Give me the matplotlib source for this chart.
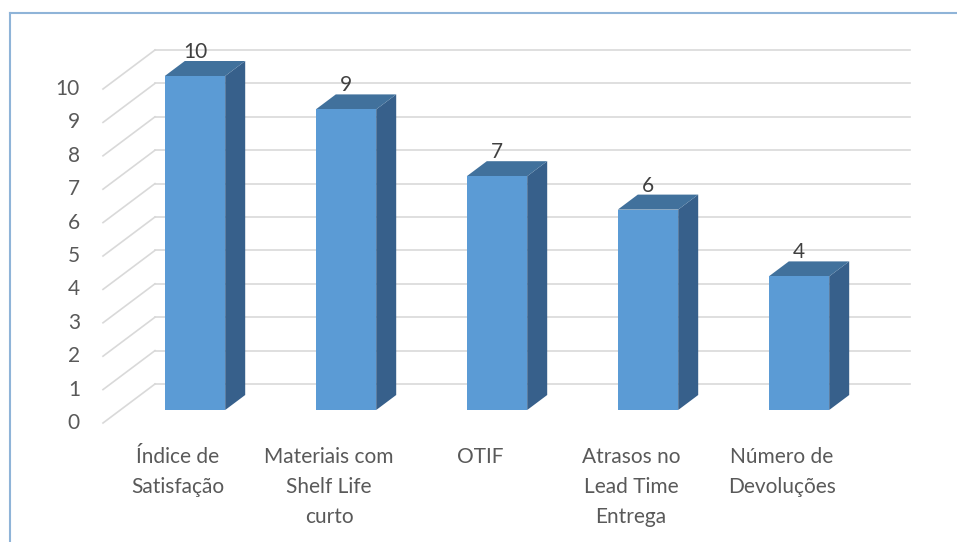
import matplotlib
matplotlib.use("Agg")
import matplotlib.pyplot as plt
from matplotlib.patches import Polygon
from matplotlib.lines import Line2D

# dados do grafico
categorias = ["Índice de\nSatisfação", "Materiais com\nShelf Life\ncurto", "OTIF",
              "Atrasos no\nLead Time\nEntrega", "Número de\nDevoluções"]
valores = [10, 9, 7, 6, 4]
ticks = list(range(0, 11))

plt.rcParams['font.family'] = ['Lato', 'DejaVu Sans']

W, H = 957, 542
fig = plt.figure(figsize=(W / 100, H / 100), dpi=100)
ax = fig.add_axes([0, 0, 1, 1])
ax.axis('off')

# escala: 151 px por categoria, 33.4 px por unidade
px_x, px_y = 151.0, 33.4
x0_px, y0_px = 195.0, 542 - 410.0
ax.set_xlim(-x0_px / px_x, (W - x0_px) / px_x)
ax.set_ylim(-y0_px / px_y, (H - y0_px) / px_y)

# profundidade das barras e da parede
larg = 0.4
ddx, ddy = 20 / px_x, 15 / px_y
parede_y0 = 26 / px_y          # base da parede do fundo
prof_x, prof_y = 52 / px_x, 39 / px_y
chao_x = -92 / px_x
chao_y = parede_y0 - prof_y
parede_x0 = chao_x + prof_x
parede_x1 = (910 - x0_px) / px_x

fs = 15
cor_grade = '#d9d9d9'
for t in ticks:
    ax.plot([parede_x0, parede_x1], [parede_y0 + t, parede_y0 + t], color=cor_grade, lw=1.2, zorder=1)
    ax.plot([chao_x, parede_x0], [chao_y + t, parede_y0 + t], color=cor_grade, lw=1.2, zorder=1)
    ax.text(chao_x - 23 / px_x, chao_y + t, str(t), ha='right', va='center',
            fontsize=fs, color='#595959')

frente, lado, topo = '#5b9bd5', '#37608b', '#41719c'
for i, v in enumerate(valores):
    xl, xr = i - larg / 2, i + larg / 2
    ax.add_patch(Polygon([(xr, 0), (xr, v), (xr + ddx, v + ddy), (xr + ddx, ddy)],
                         closed=True, facecolor=lado, edgecolor='none', zorder=3))
    ax.add_patch(Polygon([(xl, v), (xr, v), (xr + ddx, v + ddy), (xl + ddx, v + ddy)],
                         closed=True, facecolor=topo, edgecolor='none', zorder=3))
    ax.add_patch(Polygon([(xl, 0), (xr, 0), (xr, v), (xl, v)],
                         closed=True, facecolor=frente, edgecolor='none', zorder=4))
    ax.text(i, v + 0.72, str(v), ha='center', va='center', fontsize=fs, color='#404040', zorder=5)
    ax.text(i - 17 / px_x, -37 / px_y, categorias[i], ha='center', va='top',
            fontsize=fs, color='#595959', linespacing=1.62)

# moldura
fig.add_artist(Line2D([10 / W, 10 / W], [0, 1 - 13 / H], color='#8fb4d8', lw=1.5))
fig.add_artist(Line2D([10 / W, 1], [1 - 13 / H, 1 - 13 / H], color='#8fb4d8', lw=1.5))

fig.savefig('out.png', dpi=100, facecolor='white')
